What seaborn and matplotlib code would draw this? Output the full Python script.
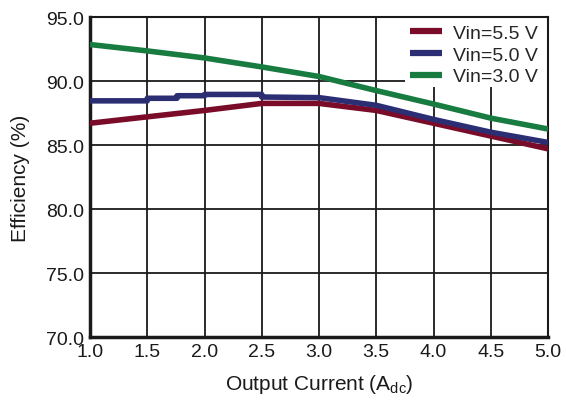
import matplotlib
matplotlib.use("Agg")
import matplotlib.pyplot as plt
import matplotlib.patches as mpatches
import seaborn as sns
import pandas as pd

# ---- data ----
x_55 = [1.0, 1.5, 2.0, 2.5, 3.0, 3.5, 4.0, 4.5, 5.0]
y_55 = [86.7, 87.2, 87.7, 88.25, 88.25, 87.7, 86.7, 85.7, 84.7]

x_50 = [1.0, 1.5, 1.5, 1.76, 1.76, 2.0, 2.0, 2.5, 2.5, 3.0, 3.5, 4.0, 4.5, 5.0]
y_50 = [88.45, 88.45, 88.65, 88.65, 88.85, 88.85, 88.95, 88.95, 88.75, 88.7, 88.1, 87.0, 86.0, 85.2]

x_30 = [1.0, 1.5, 2.0, 2.5, 3.0, 3.5, 4.0, 4.5, 5.0]
y_30 = [92.85, 92.35, 91.8, 91.1, 90.35, 89.25, 88.2, 87.1, 86.25]

labels = ["Vin=5.5 V", "Vin=5.0 V", "Vin=3.0 V"]
colors = ["#7a0c2a", "#2c2e74", "#187b40"]
x_ticks = [1.0, 1.5, 2.0, 2.5, 3.0, 3.5, 4.0, 4.5, 5.0]
y_ticks = [70.0, 75.0, 80.0, 85.0, 90.0, 95.0]

frames = []
for xs, ys, lab in zip([x_55, x_50, x_30], [y_55, y_50, y_30], labels):
    frames.append(pd.DataFrame({"x": xs, "y": ys, "series": lab}))
df = pd.concat(frames, ignore_index=True)

sns.set_style("white")
plt.rcParams["font.family"] = ["Liberation Sans", "DejaVu Sans"]

fig = plt.figure(figsize=(5.66, 4.02), dpi=100)
ax = fig.add_axes([90 / 566, 1 - 338 / 402, 458 / 566, 320 / 402])

ax.grid(True, color="#1a1a1a", linewidth=1.3)
ax.set_axisbelow(True)

# white area behind legend (covers grid)
ax.add_patch(mpatches.Rectangle((0.688, 0.781), 0.312, 0.219, transform=ax.transAxes,
                                facecolor="white", edgecolor="none", zorder=1.5))

sns.lineplot(data=df, x="x", y="y", hue="series", palette=dict(zip(labels, colors)),
             estimator=None, sort=False, units="series", linewidth=4.0, ax=ax, zorder=3)

ax.set_xlim(1.0, 5.0)
ax.set_ylim(70.0, 95.0)
ax.set_xticks(x_ticks)
ax.set_xticklabels([f"{v:.1f}" for v in x_ticks])
ax.set_yticks(y_ticks)
ax.set_yticklabels([f"{v:.1f}" for v in y_ticks])
ax.tick_params(axis="both", length=0, labelsize=14, colors="#1a1a1a", pad=4)

for s in ["left", "bottom"]:
    ax.spines[s].set_linewidth(2.5)
    ax.spines[s].set_color("#1a1a1a")
for s in ["top", "right"]:
    ax.spines[s].set_linewidth(1.5)
    ax.spines[s].set_color("#1a1a1a")

ax.set_xlabel("Output Current (A$_{\\mathregular{dc}}$)", fontsize=15, color="#1a1a1a", labelpad=9)
ax.set_ylabel("Efficiency (%)", fontsize=15, color="#1a1a1a", labelpad=12)

leg = ax.legend(loc="upper right", bbox_to_anchor=(0.978, 0.978), frameon=False, fontsize=14,
                handlelength=1.65, handletextpad=0.55, labelspacing=0.22, borderpad=0.0,
                borderaxespad=0.0)
for line in leg.get_lines():
    line.set_linewidth(4.5)
    line.set_solid_capstyle("butt")
leg.set_zorder(5)

fig.savefig("out.png", dpi=100)
